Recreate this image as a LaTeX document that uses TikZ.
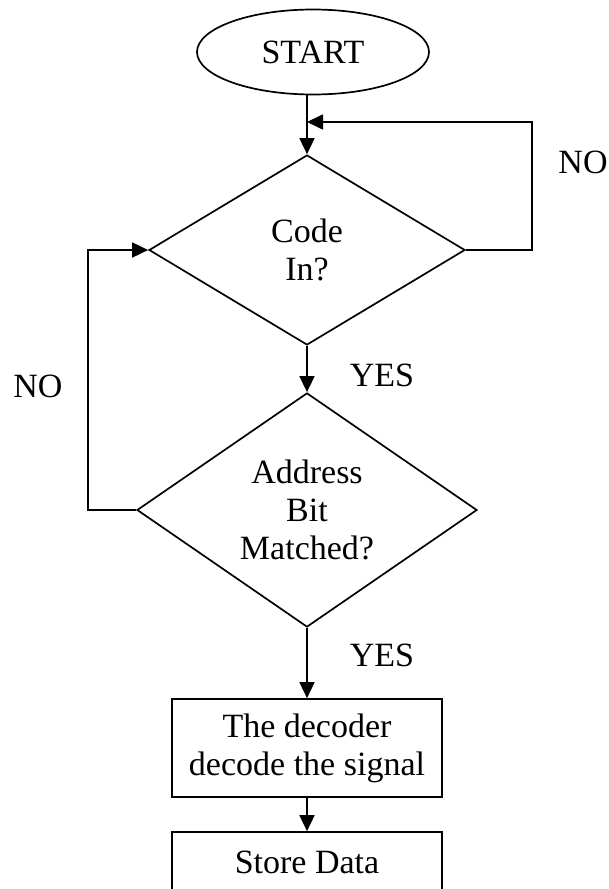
\documentclass[tikz,border=0pt]{standalone}
\usepackage{fontspec}
\setmainfont{Liberation Serif}
\usetikzlibrary{shapes.geometric,arrows.meta}

\tikzset{
  every node/.style={font=\fontsize{34}{38}\selectfont, align=center},
  flow/.style={line width=1.7pt},
  arr/.style={flow, -{Triangle[length=16pt,width=15pt]}},
  terminal/.style={draw, ellipse, line width=1.7pt, minimum width=232pt, minimum height=85pt, inner sep=0pt},
  decision/.style={draw, diamond, line width=1.7pt, inner sep=0pt},
  process/.style={draw, rectangle, line width=1.7pt, inner sep=0pt, minimum width=270pt},
  lbl/.style={inner sep=0pt}
}

\begin{document}
\begin{tikzpicture}[x=1pt, y=-1pt]
  \useasboundingbox (0,0) rectangle (609,889);
  \clip (0,0) rectangle (609,889);

  % shapes
  \node[terminal] (start) at (313,52) {START};
  \node[decision, minimum width=316pt, minimum height=190pt] (d1) at (307,250) {Code\\In?};
  \node[decision, minimum width=340pt, minimum height=230pt] (d2) at (307,510) {Address\\Bit\\Matched?};
  \node[process, minimum height=98pt] (dec) at (307,748) {The decoder\\decode the signal};
  \node[process, minimum height=60pt] (store) at (307,862) {Store Data};

  % junction where the NO loop rejoins the main line
  \coordinate (j) at (307,122);

  % main flow
  \draw[arr] (d1.north |- start.south) -- (d1.north);
  \draw[arr] (d1.south) -- (d2.north);
  \draw[arr] (d2.south) -- (dec.north);
  \draw[arr] (dec.south) -- (store.north);

  % NO loops
  \draw[flow] (d1.east) -- (532,250) -- (532,122) -- (400,122);
  \draw[arr] (400,122) -- (j);
  \draw[arr] (d2.west) -- (88,510) -- (88,250) -- (d1.west);

  % branch labels
  \node[lbl] (no1) at (583,162) {NO};
  \node[lbl] (no2) at (38,386) {NO};
  \node[lbl] (yes1) at (382,375) {YES};
  \node[lbl] (yes2) at (382,655) {YES};
\end{tikzpicture}
\end{document}
